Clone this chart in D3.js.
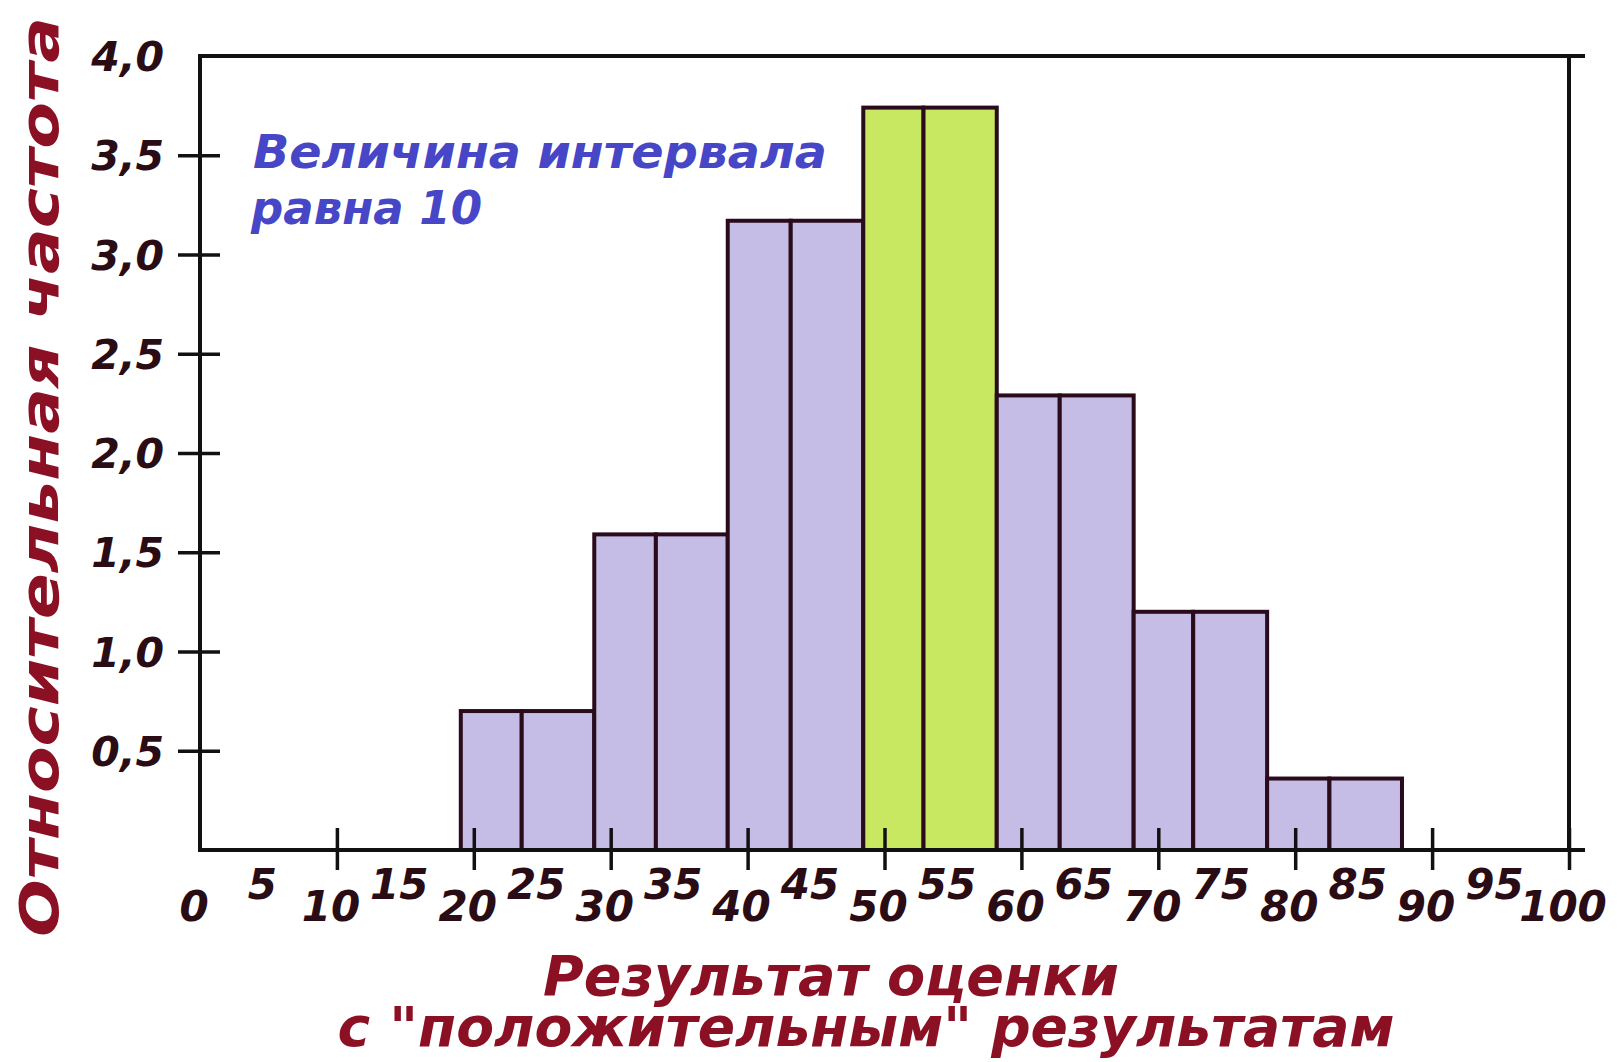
<!DOCTYPE html>
<html>
<head>
<meta charset="utf-8">
<script src="https://cdn.jsdelivr.net/npm/d3@7"></script>
<style>
  html, body { margin: 0; padding: 0; background: #ffffff; }
  svg { display: block; }
</style>
</head>
<body>
<svg id="chart" width="1617" height="1062"></svg>
<script>
// ---------- DATA ----------
const categories   = ["20–30", "30–40", "40–50", "50–60", "60–70", "70–80", "80–90"];
// drawn bar edges, in score units, as they appear in the picture
const binStart     = [19.05, 28.8, 38.55, 48.45, 58.2, 68.2, 77.95];
const binSplit     = [23.5, 33.3, 43.15, 52.85, 62.8, 72.55, 82.5];
const binEnd       = [28.8, 38.55, 48.45, 58.2, 68.2, 77.95, 87.8];
const frequency    = [0.70, 1.59, 3.17, 3.74, 2.29, 1.20, 0.36];
const highlighted  = ["50–60"];

const yTickValues  = [0.5, 1.0, 1.5, 2.0, 2.5, 3.0, 3.5, 4.0];
const yTickLabels  = ["0,5", "1,0", "1,5", "2,0", "2,5", "3,0", "3,5", "4,0"];
const xTickValues  = [10, 20, 30, 40, 50, 60, 70, 80, 90, 100];
const xLabelValues = [0, 5, 10, 15, 20, 25, 30, 35, 40, 45, 50, 55, 60, 65, 70, 75, 80, 85, 90, 95, 100];
const xLabelTexts  = ["0","5","10","15","20","25","30","35","40","45","50","55","60","65","70","75","80","85","90","95","100"];

const yTitle   = "Относительная частота";
const xTitle1  = "Результат оценки";
const xTitle2  = "с \"положительным\" результатам";
const note1    = "Величина интервала";
const note2    = "равна 10";

// ---------- LAYOUT ----------
const svg = d3.select("#chart");
const x = d3.scaleLinear().domain([0, 100]).range([200, 1569]);
const y = d3.scaleLinear().domain([0, 4]).range([850, 56]);

const C = {
  lavender: "#c5bde5",
  green: "#c9e862",
  barStroke: "#2a0b1c",
  axis: "#111111",
  tickText: "#2a0c15",
  title: "#8c1024",
  note: "#4646c6"
};
const digitFont = "'DejaVu Sans', 'Liberation Sans', sans-serif";

// ---------- BARS ----------
const bins = categories.map((c, i) => ({
  cat: c, lo: binStart[i], mid: binSplit[i], hi: binEnd[i], v: frequency[i]
}));
const halves = [];
bins.forEach(b => {
  halves.push({ cat: b.cat, a: b.lo, b: b.mid, v: b.v });
  halves.push({ cat: b.cat, a: b.mid, b: b.hi, v: b.v });
});

svg.append("g").selectAll("rect").data(halves).join("rect")
  .attr("x", d => x(d.a))
  .attr("y", d => y(d.v))
  .attr("width", d => x(d.b) - x(d.a))
  .attr("height", d => y(0) - y(d.v))
  .attr("fill", d => highlighted.includes(d.cat) ? C.green : C.lavender)
  .attr("stroke", C.barStroke)
  .attr("stroke-width", 4)
  .attr("stroke-linejoin", "miter");

// ---------- FRAME / AXES ----------
const frame = svg.append("g").attr("stroke", C.axis).attr("stroke-width", 4).attr("fill", "none");
frame.append("line").attr("x1", x(0)).attr("x2", x(100) + 16).attr("y1", y(4)).attr("y2", y(4));
frame.append("line").attr("x1", x(100)).attr("x2", x(100)).attr("y1", y(4)).attr("y2", y(0));

const yAxis = d3.axisLeft(y)
  .tickValues(yTickValues.filter(v => v < 4))
  .tickSize(22)
  .tickFormat("");
const gy = svg.append("g").attr("transform", `translate(${x(0)},0)`).call(yAxis);
gy.select(".domain").remove();
gy.selectAll(".tick line").attr("x2", -22).attr("x1", 20)
  .attr("stroke", C.axis).attr("stroke-width", 3.5);
svg.append("line").attr("x1", x(0)).attr("x2", x(0)).attr("y1", y(4) - 2).attr("y2", y(0) + 2)
  .attr("stroke", C.axis).attr("stroke-width", 4);

const xAxis = d3.axisBottom(x).tickValues(xTickValues).tickSize(20).tickFormat("");
const gx = svg.append("g").attr("transform", `translate(0,${y(0)})`).call(xAxis);
gx.select(".domain").remove();
gx.selectAll(".tick line").attr("y1", -22).attr("y2", 20)
  .attr("stroke", C.axis).attr("stroke-width", 3.5);
svg.append("line").attr("x1", x(0) - 2).attr("x2", x(100) + 16).attr("y1", y(0)).attr("y2", y(0))
  .attr("stroke", C.axis).attr("stroke-width", 4);

// ---------- TICK LABELS ----------
svg.append("g").selectAll("text").data(yTickValues).join("text")
  .attr("x", 164)
  .attr("y", d => y(d) + 15)
  .attr("text-anchor", "end")
  .attr("font-family", digitFont)
  .attr("font-weight", "bold")
  .attr("font-style", "oblique")
  .attr("font-size", 41)
  .attr("fill", C.tickText)
  .text((d, i) => yTickLabels[i]);

svg.append("g").selectAll("text").data(xLabelValues).join("text")
  .attr("x", d => x(d) - 6)
  .attr("y", d => (d % 10 === 0) ? 921 : 899)
  .attr("text-anchor", "middle")
  .attr("font-family", digitFont)
  .attr("font-weight", "bold")
  .attr("font-style", "oblique")
  .attr("font-size", 42)
  .attr("fill", C.tickText)
  .text((d, i) => xLabelTexts[i]);

// ---------- ANNOTATION ----------
const noteG = svg.append("g")
  .attr("font-family", digitFont)
  .attr("font-weight", "bold")
  .attr("font-style", "oblique")
  .attr("font-size", 46)
  .attr("fill", C.note);
noteG.append("text").attr("x", 253).attr("y", 168)
  .attr("textLength", 574).attr("lengthAdjust", "spacingAndGlyphs").text(note1);
noteG.append("text").attr("x", 251).attr("y", 224)
  .attr("textLength", 231).attr("lengthAdjust", "spacingAndGlyphs").text(note2);

// ---------- AXIS TITLES ----------
const titleG = svg.append("g")
  .attr("font-family", digitFont)
  .attr("font-weight", "bold")
  .attr("font-style", "oblique")
  .attr("fill", C.title);

titleG.append("text")
  .attr("transform", "translate(58,477) rotate(-90)")
  .attr("text-anchor", "middle")
  .attr("font-size", 54)
  .attr("textLength", 920).attr("lengthAdjust", "spacingAndGlyphs")
  .text(yTitle);

titleG.append("text")
  .attr("x", 831).attr("y", 995)
  .attr("text-anchor", "middle")
  .attr("font-size", 56)
  .attr("textLength", 576).attr("lengthAdjust", "spacingAndGlyphs")
  .text(xTitle1);

titleG.append("text")
  .attr("x", 866).attr("y", 1046)
  .attr("text-anchor", "middle")
  .attr("font-size", 55)
  .attr("textLength", 1057).attr("lengthAdjust", "spacingAndGlyphs")
  .text(xTitle2);
</script>
</body>
</html>
